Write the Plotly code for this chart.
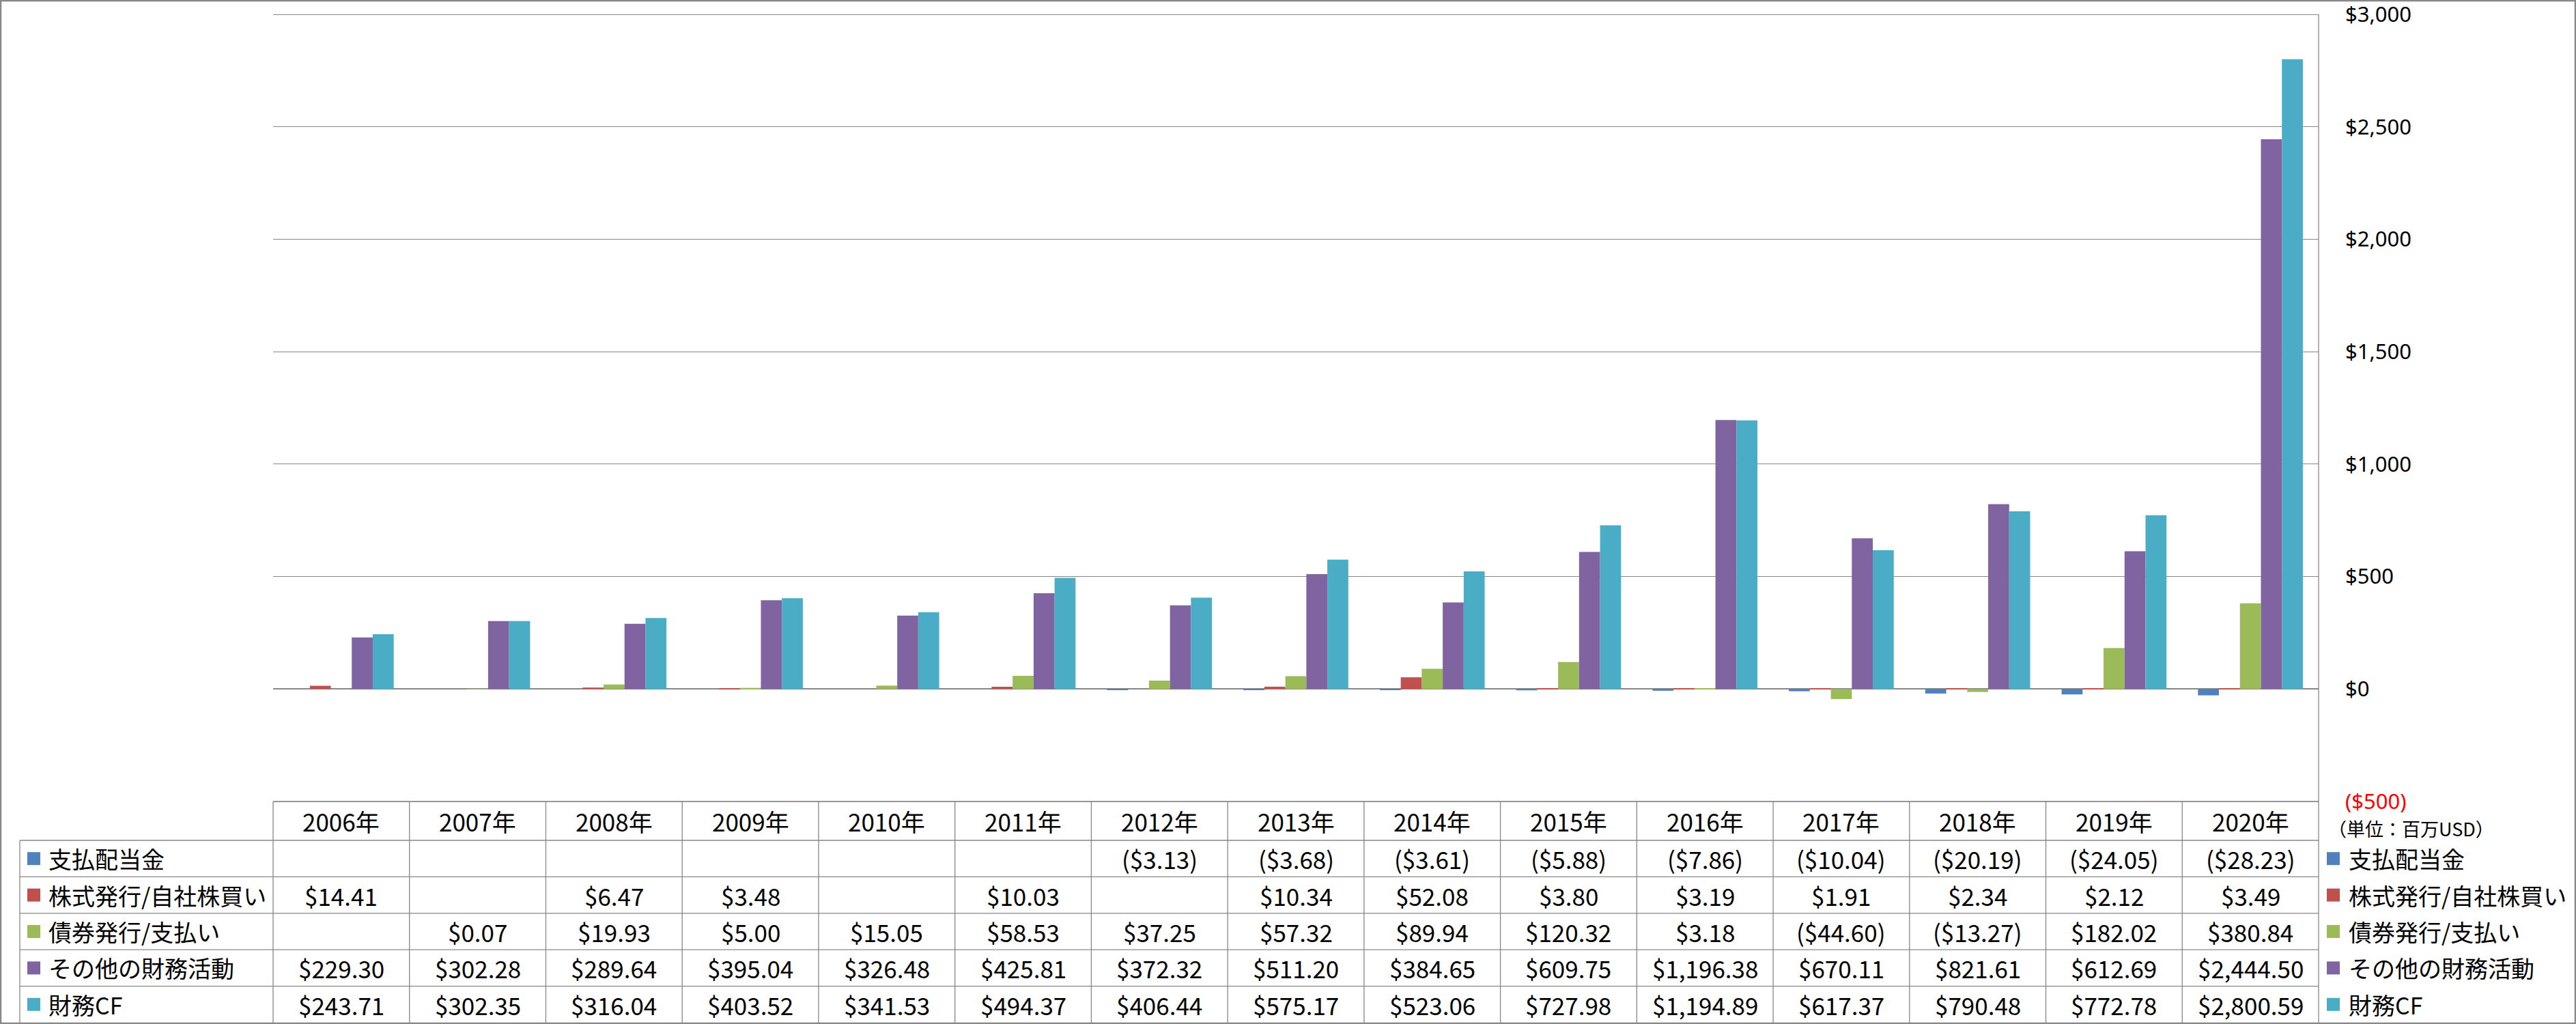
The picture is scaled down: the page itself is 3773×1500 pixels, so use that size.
import plotly.graph_objects as go

# ---------------- data ----------------
years = [f"{y}年" for y in range(2006, 2021)]
series_names = ["支払配当金", "株式発行/自社株買い", "債券発行/支払い", "その他の財務活動", "財務CF"]
dividends = [None, None, None, None, None, None, -3.13, -3.68, -3.61, -5.88, -7.86, -10.04, -20.19, -24.05, -28.23]
stock = [14.41, None, 6.47, 3.48, None, 10.03, None, 10.34, 52.08, 3.80, 3.19, 1.91, 2.34, 2.12, 3.49]
debt = [None, 0.07, 19.93, 5.00, 15.05, 58.53, 37.25, 57.32, 89.94, 120.32, 3.18, -44.60, -13.27, 182.02, 380.84]
other = [229.30, 302.28, 289.64, 395.04, 326.48, 425.81, 372.32, 511.20, 384.65, 609.75, 1196.38, 670.11, 821.61, 612.69, 2444.50]
financing_cf = [243.71, 302.35, 316.04, 403.52, 341.53, 494.37, 406.44, 575.17, 523.06, 727.98, 1194.89, 617.37, 790.48, 772.78, 2800.59]
series_values = [dividends, stock, debt, other, financing_cf]
colors = ["#4F81BD", "#C0504D", "#9BBB59", "#8064A2", "#4BACC6"]
tick_vals = [-500, 0, 500, 1000, 1500, 2000, 2500, 3000]
y_min, y_max = -500, 3000
unit_label = "（単位：百万USD）"

# ---------------- layout constants (pixels) ----------------
W, H = 3773, 1500
PL, PR, PT, PB = 400, 3396, 21, 1174
PAD = 10  # extend the plot area slightly so the end ticks are drawn
HEADER_BOTTOM = 1231
ROW_H = 53.4
TABLE_LEFT = 29
GRID = "#878787"
FONT_JP = "Noto Sans CJK JP"


def px(x):
    return x / W


def py(y):
    return 1 - y / H


def fmt(v):
    if v is None:
        return ""
    s = f"${abs(v):,.2f}"
    return f"({s})" if v < 0 else s


def fmt_tick(v):
    s = f"${abs(v):,.0f}"
    if v < 0:
        return f'<span style="color:#FF0000">({s})</span>'
    return s


units_per_px = (y_max - y_min) / (PB - PT)
yr_lo = y_min - PAD * units_per_px
yr_hi = y_max + PAD * units_per_px

fig = go.Figure()
for name, vals, col in zip(series_names, series_values, colors):
    fig.add_trace(go.Bar(x=years, y=vals, name=name, marker=dict(color=col, line=dict(width=0))))

shapes = []
annotations = []

# table horizontal lines
row_lines = [HEADER_BOTTOM + k * ROW_H for k in range(6)]
shapes.append(dict(type="line", xref="paper", yref="paper", x0=px(PL), x1=px(PR), y0=py(PB), y1=py(PB),
                   line=dict(color=GRID, width=1.3)))
for yl in row_lines[:-1]:
    shapes.append(dict(type="line", xref="paper", yref="paper", x0=px(TABLE_LEFT), x1=px(PR), y0=py(yl), y1=py(yl),
                       line=dict(color=GRID, width=1.3)))
# table vertical lines
col_w = (PR - PL) / len(years)
for i in range(len(years) + 1):
    xl = PL + i * col_w
    shapes.append(dict(type="line", xref="paper", yref="paper", x0=px(xl), x1=px(xl), y0=py(PB), y1=py(H - 2),
                       line=dict(color=GRID, width=1.3)))
shapes.append(dict(type="line", xref="paper", yref="paper", x0=px(TABLE_LEFT), x1=px(TABLE_LEFT),
                   y0=py(HEADER_BOTTOM), y1=py(H - 2), line=dict(color=GRID, width=1.3)))
# right axis line across plot area
shapes.append(dict(type="line", xref="paper", yref="paper", x0=px(PR), x1=px(PR), y0=py(PT), y1=py(PB),
                   line=dict(color=GRID, width=1.3)))

# header years
for yr in years:
    annotations.append(dict(x=yr, xref="x", y=py((PB + HEADER_BOTTOM) / 2), yref="paper", text=yr,
                            showarrow=False, xanchor="center", yanchor="middle",
                            font=dict(family=FONT_JP, size=35, color="black")))

# rows
for r, (name, vals, col) in enumerate(zip(series_names, series_values, colors)):
    yc = HEADER_BOTTOM + (r + 0.5) * ROW_H
    for yr, v in zip(years, vals):
        if v is None:
            continue
        annotations.append(dict(x=yr, xref="x", y=py(yc), yref="paper", text=fmt(v), showarrow=False,
                                xanchor="center", yanchor="middle",
                                font=dict(family=FONT_JP, size=35, color="black")))
    # row header (left) and legend (right)
    for sx, tx in ((40, 69), (3408, 3438)):
        shapes.append(dict(type="rect", xref="paper", yref="paper", x0=px(sx), x1=px(sx + 19),
                           y0=py(yc - 9.5), y1=py(yc + 9.5), fillcolor=col, line=dict(width=0)))
        annotations.append(dict(x=px(tx), xref="paper", y=py(yc), yref="paper", text=name, showarrow=False,
                                xanchor="left", yanchor="middle",
                                font=dict(family=FONT_JP, size=34, color="black")))

annotations.append(dict(x=px(3408), xref="paper", y=py(1213), yref="paper", text=unit_label, showarrow=False,
                        xanchor="left", yanchor="middle", font=dict(family=FONT_JP, size=27, color="black")))

# outer border
shapes.append(dict(type="rect", xref="paper", yref="paper", x0=px(1), x1=px(W - 1), y0=py(1), y1=py(H - 1),
                   line=dict(color="#888888", width=2.5), fillcolor="rgba(0,0,0,0)"))

fig.update_layout(
    width=W, height=H, autosize=False,
    margin=dict(l=0, r=0, t=0, b=0, pad=0),
    paper_bgcolor="white", plot_bgcolor="white",
    barmode="group", bargap=1.5 / 6.5, bargroupgap=0,
    showlegend=False,
    xaxis=dict(domain=[px(PL), px(PR)], showticklabels=False, showgrid=False, zeroline=False,
               showline=False, ticks=""),
    yaxis=dict(domain=[py(PB + PAD), py(PT - PAD)], side="right", range=[yr_lo, yr_hi], tickvals=tick_vals,
               ticktext=[fmt_tick(v) for v in tick_vals], showgrid=True, gridcolor=GRID, gridwidth=1.3,
               zeroline=True, zerolinecolor=GRID, zerolinewidth=1.5, showline=False,
               ticks="", ticklabelstandoff=38, ticklabeloverflow="allow", automargin=False,
               tickfont=dict(family="Noto Sans", size=31, color="black")),
    shapes=shapes,
    annotations=annotations,
)

fig.write_html("out.html")
